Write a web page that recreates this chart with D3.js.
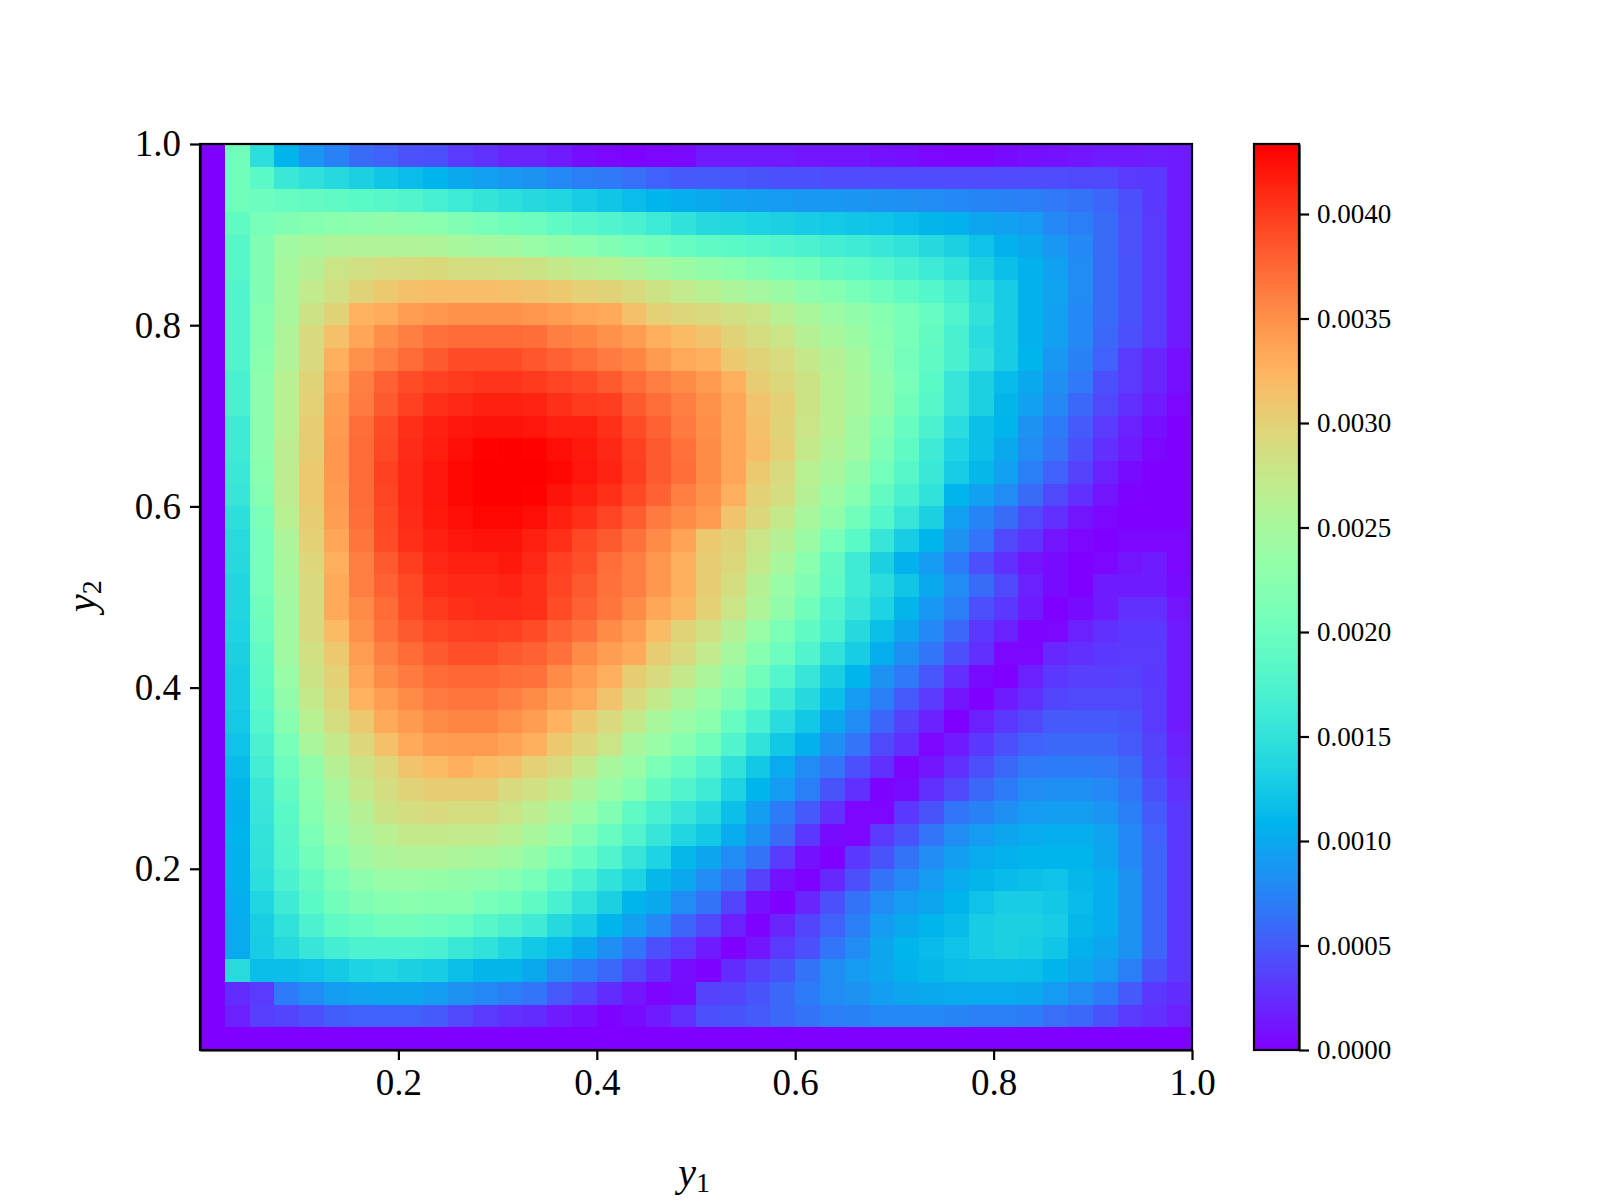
<!DOCTYPE html>
<html><head><meta charset="utf-8">
<script src="https://cdn.jsdelivr.net/npm/d3@7"></script>
<style>html,body{margin:0;background:#fff}svg{display:block}text{font-family:"Liberation Serif",serif;fill:#000}</style>
</head><body><div id="c"></div>
<script>
// Values in units of 1e-5, top row (y2 = 1.0) first.
const cellValues = [
[0,204,146,108,86,74,60,54,45,44,32,27,20,20,14,7,4,1,3,5,14,14,14,14,12,12,12,10,8,4,2,2,6,8,10,12,14,14,16,14],
[0,204,186,158,148,140,132,122,115,108,100,94,88,85,78,72,68,62,54,49,50,48,46,44,44,42,42,42,42,42,42,42,42,42,42,40,40,32,30,14],
[0,204,200,196,193,190,186,183,177,168,160,153,146,140,136,128,122,115,108,104,100,95,92,90,88,88,86,84,82,80,78,76,74,72,68,64,56,44,30,14],
[0,190,210,217,222,225,228,232,228,225,217,210,204,200,190,183,177,170,160,150,140,138,134,132,128,125,122,120,115,110,106,98,94,90,78,72,60,45,32,14],
[0,183,217,245,252,257,258,258,258,257,252,248,245,238,232,225,217,210,204,196,190,186,183,177,173,166,162,156,150,140,132,120,106,100,88,78,60,45,32,14],
[0,183,217,249,262,279,286,290,292,293,289,289,286,282,275,268,265,258,248,240,232,225,217,210,204,193,187,180,170,160,150,132,118,106,95,80,60,46,32,14],
[0,177,217,252,272,286,299,309,316,318,318,318,316,313,309,302,299,292,282,272,265,255,248,240,228,222,210,200,190,180,166,145,128,106,96,80,60,46,32,14],
[0,177,222,252,282,299,327,331,342,346,350,350,350,346,342,336,333,316,302,296,292,286,279,265,253,242,232,222,210,196,177,150,128,106,95,78,60,46,32,14],
[0,177,222,257,292,316,336,352,362,370,374,374,374,372,362,358,350,342,329,320,313,299,289,279,262,252,240,225,210,193,170,144,128,106,94,78,58,44,32,14],
[0,177,225,258,292,329,350,362,374,384,392,392,392,386,379,372,364,358,344,334,329,309,299,290,276,262,249,228,208,190,170,148,128,108,88,74,54,32,20,8],
[0,170,228,265,299,336,362,379,392,398,402,405,405,402,396,392,384,372,362,354,344,329,305,294,282,265,252,232,210,186,155,132,114,100,82,68,44,31,20,8],
[0,170,228,265,302,342,364,384,398,408,412,416,416,414,408,402,400,384,372,362,350,336,313,302,282,265,252,232,204,183,155,132,110,95,78,58,40,26,14,4],
[0,162,228,265,305,344,372,392,408,416,422,424,424,422,416,416,408,392,379,364,352,336,316,299,279,265,245,222,196,173,144,118,108,84,70,50,32,18,8,0],
[0,162,228,268,305,346,374,394,410,418,426,432,434,432,426,420,412,398,384,370,354,336,318,302,275,258,244,216,190,162,134,118,100,80,65,44,26,14,4,0],
[0,158,225,268,309,346,374,398,412,422,430,434,434,434,430,422,414,400,384,372,354,336,309,292,265,252,232,206,183,158,128,112,94,72,54,36,18,6,0,0],
[0,155,222,268,309,344,374,396,412,422,430,434,434,432,424,416,408,394,379,362,350,329,302,289,262,242,222,193,170,150,108,95,80,60,40,26,11,1,0,0],
[0,146,214,265,305,342,372,394,410,420,426,430,430,426,416,408,396,382,364,354,344,313,294,275,252,232,204,180,155,132,94,76,60,40,26,11,3,0,0,0],
[0,142,210,255,302,336,368,392,408,416,422,424,424,416,408,394,384,370,354,338,309,299,279,262,240,210,186,155,128,108,84,65,40,28,11,3,0,4,4,4],
[0,140,210,252,296,329,362,384,400,412,416,416,420,412,398,390,372,362,346,329,305,294,275,252,225,193,162,132,106,90,70,44,26,11,6,0,3,11,14,4],
[0,136,210,248,292,333,362,379,394,408,412,412,414,408,396,384,370,362,346,329,305,289,262,238,217,190,162,144,122,100,80,60,40,18,6,0,14,14,14,6],
[0,136,204,245,292,333,354,374,392,402,408,410,410,408,392,379,368,354,336,322,302,279,257,232,204,177,155,134,110,88,72,44,30,14,0,6,14,26,26,11],
[0,134,200,245,292,320,350,370,384,394,398,400,398,392,379,370,354,342,320,299,286,262,238,214,190,170,140,118,98,78,58,30,18,2,3,18,26,30,30,14],
[0,132,193,245,286,309,342,362,374,384,390,390,384,379,370,354,342,333,305,292,272,248,222,200,177,150,128,104,82,66,44,26,3,3,22,26,30,32,32,14],
[0,128,190,238,282,302,336,354,364,374,376,376,372,370,354,342,329,305,292,275,255,232,204,180,155,130,108,84,68,48,26,6,0,18,30,34,34,36,30,14],
[0,128,186,232,275,296,327,342,354,364,368,368,362,354,342,333,313,292,275,255,238,217,190,162,140,118,90,72,50,32,11,0,14,26,38,40,40,40,32,14],
[0,125,180,222,265,289,309,333,344,354,358,358,350,342,327,309,292,275,252,238,225,196,170,144,124,100,80,56,36,18,0,18,30,40,50,50,50,46,32,14],
[0,120,173,210,252,275,296,316,333,342,344,344,338,329,309,296,279,252,238,222,204,177,150,124,106,82,65,40,26,3,14,30,44,54,58,58,58,50,36,18],
[0,114,166,200,232,262,282,296,313,320,329,320,316,302,292,275,252,238,214,196,177,150,124,102,80,65,44,26,2,12,26,44,58,68,70,70,68,60,38,22],
[0,110,158,193,225,252,275,289,299,305,305,305,292,286,275,255,238,222,193,177,162,134,108,90,72,46,26,1,6,26,40,58,70,80,82,82,78,66,44,26],
[0,106,155,186,222,245,262,282,289,292,289,289,279,268,255,238,217,190,170,155,140,118,92,70,50,26,3,3,30,46,66,74,82,90,92,92,86,72,50,30],
[0,108,152,183,214,238,255,265,275,275,272,272,265,252,238,217,196,177,155,136,124,102,82,60,30,6,3,32,46,66,80,90,98,102,104,104,96,78,54,30],
[0,106,150,180,204,225,245,255,258,258,255,252,245,232,214,196,177,155,134,112,98,80,64,32,10,0,30,46,64,80,92,102,106,108,108,108,98,78,56,30],
[0,106,146,173,193,214,228,238,238,236,232,228,222,210,190,170,150,134,112,100,80,64,36,10,1,22,44,64,78,90,102,110,114,118,120,112,104,84,56,30],
[0,104,136,162,186,204,217,222,225,222,222,210,204,190,170,150,132,108,100,80,64,38,10,0,20,44,64,80,90,98,108,120,128,128,124,114,104,84,56,30],
[0,102,130,150,173,190,196,204,204,200,196,183,173,162,140,128,108,94,78,56,40,18,1,20,38,54,72,90,100,108,114,128,132,132,128,112,104,84,56,30],
[0,102,128,140,155,166,174,174,174,170,158,150,136,124,115,100,82,66,44,32,14,0,12,32,44,66,80,98,108,114,120,128,132,130,122,106,98,84,56,30],
[0,142,116,116,120,126,134,136,132,128,118,110,110,100,80,70,58,40,24,7,1,24,36,46,64,80,90,98,106,112,116,118,118,116,108,100,90,72,46,30],
[0,24,32,70,80,92,96,98,98,92,84,78,72,66,50,38,24,12,2,6,36,38,46,58,70,80,84,92,98,100,102,102,102,100,90,80,70,50,30,24],
[0,18,34,38,44,52,54,54,54,50,40,32,26,24,14,10,1,6,14,26,44,46,50,58,64,72,74,78,78,78,76,72,72,70,62,58,46,32,26,18],
[0,0,0,0,0,0,0,0,0,0,0,0,0,0,0,0,0,0,0,0,0,0,0,0,0,0,0,0,0,0,0,0,0,0,0,0,0,0,0,0]
];
const valueUnit = 1e-5;
const valueMax = 0.004335;
const axisTicks = [0.2,0.4,0.6,0.8,1.0];
const colorbarTicks = [0,0.0005,0.001,0.0015,0.002,0.0025,0.003,0.0035,0.004];

const W=1600,H=1200,L=200,R=1192,T=144,B=1050,CL=1254,CR=1299;
const rainbow = t => {
  const f=v=>Math.round(255*Math.max(0,Math.min(1,v)));
  return `rgb(${f(Math.abs(2*t-0.5))},${f(Math.sin(Math.PI*t))},${f(Math.cos(Math.PI*t/2))})`;
};
const color = d3.scaleSequential([0,valueMax],rainbow);
const svg = d3.select('#c').append('svg').attr('width',W).attr('height',H);

const x = d3.scaleLinear([0,1],[L,R]);
const y = d3.scaleLinear([0,1],[B,T]);
const colBand = d3.scaleBand(d3.range(40),[L,R]);
const rowBand = d3.scaleBand(d3.range(40),[T,B]);
const cells = cellValues.flatMap((row,r)=>row.map((v,c)=>({r,c,v:v*valueUnit})));
svg.append('g').attr('shape-rendering','crispEdges').selectAll('rect').data(cells).join('rect')
  .attr('x',d=>colBand(d.c)).attr('y',d=>rowBand(d.r))
  .attr('width',colBand.bandwidth()+0.5).attr('height',rowBand.bandwidth()+0.5)
  .attr('fill',d=>color(d.v));

const styleAxis=(g,size)=>{
  g.selectAll('.tick line').attr('stroke','#000').attr('stroke-width',2.2);
  g.selectAll('.tick text').attr('font-size',size).attr('font-family','"Liberation Serif",serif').attr('fill','#000');
  g.select('.domain').attr('stroke','#000').attr('stroke-width',2.2);
};
const fmt1=d3.format('.1f'), fmt4=d3.format('.4f');
const gx=svg.append('g').attr('transform',`translate(0,${B})`)
  .call(d3.axisBottom(x).tickValues(axisTicks).tickFormat(fmt1).tickSize(10).tickPadding(9).tickSizeOuter(0));
styleAxis(gx,37);
const gy=svg.append('g').attr('transform',`translate(${L},0)`)
  .call(d3.axisLeft(y).tickValues(axisTicks).tickFormat(fmt1).tickSize(10).tickPadding(9).tickSizeOuter(0));
styleAxis(gy,37);
svg.append('rect').attr('x',L).attr('y',T).attr('width',R-L).attr('height',B-T)
  .attr('fill','none').attr('stroke','#000').attr('stroke-width',2.2);

// colour bar
const cy=d3.scaleLinear([0,valueMax],[B,T]);
const steps=d3.range(256);
const stepBand=d3.scaleBand(steps,[B,T]);
svg.append('g').attr('shape-rendering','crispEdges').selectAll('rect').data(steps).join('rect')
  .attr('x',CL).attr('width',CR-CL)
  .attr('y',d=>stepBand(d)).attr('height',stepBand.bandwidth()+1)
  .attr('fill',d=>rainbow(d/255));
const gc=svg.append('g').attr('transform',`translate(${CR},0)`)
  .call(d3.axisRight(cy).tickValues(colorbarTicks).tickFormat(fmt4).tickSize(10).tickPadding(8).tickSizeOuter(0));
styleAxis(gc,27);
svg.append('rect').attr('x',CL).attr('y',T).attr('width',CR-CL).attr('height',B-T)
  .attr('fill','none').attr('stroke','#000').attr('stroke-width',2.2);

// axis labels
const label=(tx,ty,rot,main,sub)=>{
  const t=svg.append('text').attr('transform',`translate(${tx},${ty}) rotate(${rot})`).attr('text-anchor','middle');
  t.append('tspan').attr('font-size',40).attr('font-style','italic').text(main);
  t.append('tspan').attr('font-size',28).attr('dy',6).text(sub);
};
label(694,1186,0,'y','1');
label(95,596,-90,'y','2');
</script></body></html>
